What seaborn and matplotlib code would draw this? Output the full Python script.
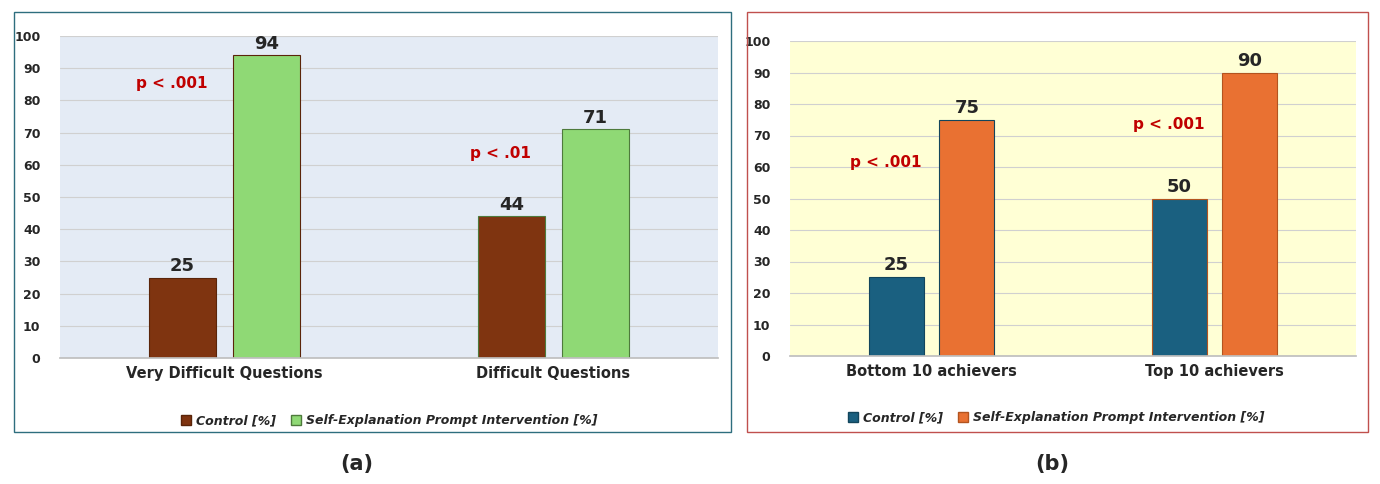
import matplotlib
matplotlib.use("Agg")
import matplotlib.pyplot as plt
import seaborn as sns
import pandas as pd
from matplotlib.patches import Rectangle

cats_a = ["Very Difficult Questions", "Difficult Questions"]
ctrl_a = [25, 44]
se_a = [94, 71]
p_a = ["p < .001", "p < .01"]
p_a_y = [84, 62]

cats_b = ["Bottom 10 achievers", "Top 10 achievers"]
ctrl_b = [25, 50]
se_b = [75, 90]
p_b = ["p < .001", "p < .001"]
p_b_y = [60, 72]

series = ["Control [%]", "Self-Explanation Prompt Intervention [%]"]

sns.set_theme(style="white")
plt.rcParams['font.family'] = ['DejaVu Sans']

W, H = 1380, 484
fig = plt.figure(figsize=(W/100, H/100), dpi=100)

def rect(x0, y0, x1, y1):
    return [x0/W, 1-y1/H, (x1-x0)/W, (y1-y0)/H]

# panel frames
for (x0, y0, x1, y1, c) in [(14, 12, 731, 432, "#2E6E7E"), (747, 12, 1368, 432, "#C0504D")]:
    fig.patches.append(Rectangle((x0/W, 1-y1/H), (x1-x0)/W, (y1-y0)/H, transform=fig.transFigure,
                                 fill=False, edgecolor=c, linewidth=1))

def panel(box, cats, ctrl, se, pl, py, colors, bg, edges, width, gap, legx):
    ax = fig.add_axes(rect(*box))
    df = pd.DataFrame({"cat": cats*2, "val": ctrl+se, "s": [series[0]]*2+[series[1]]*2})
    sns.barplot(data=df, x="cat", y="val", hue="s", palette=colors, width=width, gap=gap,
                ax=ax, saturation=1, edgecolor=edges, linewidth=0.8, legend=False)
    ax.set_facecolor(bg)
    ax.set_ylim(0, 100)
    ax.set_yticks(range(0, 101, 10))
    ax.yaxis.grid(True, color="#D0D0D0", linewidth=0.8)
    ax.set_axisbelow(True)
    for s in ["top", "right", "left"]:
        ax.spines[s].set_visible(False)
    ax.spines["bottom"].set_color("#BFBFBF")
    ax.tick_params(axis="y", labelsize=9, length=0, pad=14)
    ax.tick_params(axis="x", labelsize=10.5, length=0, pad=6)
    for t in ax.get_xticklabels() + ax.get_yticklabels():
        t.set_fontweight("bold")
    ax.set_xlabel(""); ax.set_ylabel("")
    for c in ax.containers:
        ax.bar_label(c, fontsize=13, fontweight="bold", padding=2)
    for i, (t, y) in enumerate(zip(pl, py)):
        ax.text(i - 0.16, y, t, color="#C00000", fontsize=11, fontweight="bold", ha="center")
    handles = [Rectangle((0, 0), 1, 1, facecolor=colors[k], edgecolor=edges[k] if isinstance(edges, list) else edges) for k in range(2)]
    leg = ax.legend(handles, series, loc="upper center", bbox_to_anchor=(legx, -0.14), ncol=2,
                    frameon=False, prop={"weight": "bold", "style": "italic", "size": 9},
                    handlelength=0.8, handleheight=0.8, columnspacing=1.2, handletextpad=0.4)
    return ax

panel((60, 36, 718, 358), cats_a, ctrl_a, se_a, p_a, p_a_y,
      ["#7F3410", "#8FD975"], "#E4EBF5", ["#5A2409", "#4E7A3C"], 0.51, 0.2, 0.5)
panel((790, 41, 1356, 356), cats_b, ctrl_b, se_b, p_b, p_b_y,
      ["#1A6080", "#E97132"], "#FFFFD5", ["#12455C", "#B3541F"], 0.5, 0.22, 0.47)

fig.text(357/W, 1-464/H, "(a)", ha="center", va="center", fontsize=15, fontweight="bold")
fig.text(1052/W, 1-464/H, "(b)", ha="center", va="center", fontsize=15, fontweight="bold")

fig.savefig("out.png", dpi=100)
